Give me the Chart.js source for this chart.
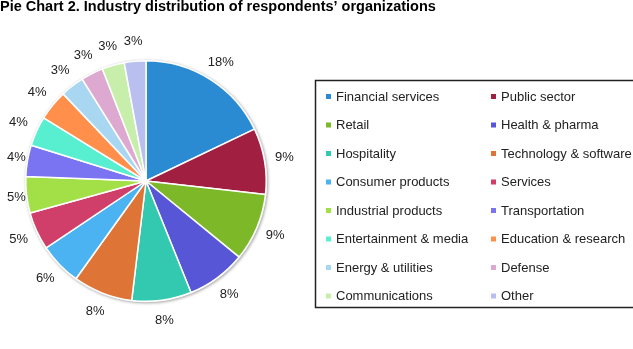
<!DOCTYPE html>
<html>
<head>
<meta charset="utf-8">
<script src="https://cdn.jsdelivr.net/npm/chart.js@4/dist/chart.umd.min.js"></script>
<style>
html,body{margin:0;padding:0;background:#fff;overflow:hidden;}
#wrap{position:relative;width:633px;height:349px;}
canvas{display:block;}
</style>
</head>
<body>
<div id="wrap"><canvas id="c" width="633" height="349"></canvas></div>
<script>
const titleText = "Pie Chart 2. Industry distribution of respondents\u2019 organizations";
const categories = [
  "Financial services", "Public sector", "Retail", "Health & pharma",
  "Hospitality", "Technology & software", "Consumer products", "Services",
  "Industrial products", "Transportation", "Entertainment & media", "Education & research",
  "Energy & utilities", "Defense", "Communications", "Other"
];
const shares = [17.9, 8.9, 9.1, 8.0, 8.0, 8.0, 5.7, 5.1, 4.9, 4.2, 4.0, 4.1, 3.2, 3.0, 3.0, 2.9];
const sliceColors = [
  "#2a8ad2", "#a11f40", "#7db828", "#5656d6",
  "#33c9b1", "#de7436", "#4bb3f1", "#cf3f69",
  "#a3e047", "#7a74f2", "#58efd1", "#ff8f4b",
  "#a9d7f2", "#dea9d1", "#c7efab", "#b9c0ef"
];

const labelPlugin = {
  id: 'pctLabels',
  beforeDatasetsDraw(chart) {
    const meta = chart.getDatasetMeta(0);
    const a = meta.data[0];
    const ctx = chart.ctx;
    ctx.save();
    ctx.beginPath();
    ctx.arc(a.x, a.y, a.outerRadius + 1, 0, Math.PI * 2);
    ctx.shadowColor = 'rgba(0,0,0,0.35)';
    ctx.shadowBlur = 3;
    ctx.shadowOffsetX = 1;
    ctx.shadowOffsetY = 1;
    ctx.fillStyle = '#e4e4e4';
    ctx.fill();
    ctx.restore();
  },
  afterDatasetsDraw(chart) {
    const ctx = chart.ctx;
    const meta = chart.getDatasetMeta(0);
    const vals = chart.data.datasets[0].data;
    ctx.save();
    ctx.font = '13px "Liberation Sans", Arial, sans-serif';
    ctx.fillStyle = '#222';
    ctx.textAlign = 'center';
    ctx.textBaseline = 'middle';
    meta.data.forEach((arc, i) => {
      const txt = Math.round(vals[i]) + '%';
      const w = ctx.measureText(txt).width;
      const mid = (arc.startAngle + arc.endAngle) / 2;
      const r = arc.outerRadius + 20;
      let x = arc.x + Math.cos(mid) * r;
      const y = arc.y + Math.sin(mid) * r;
      x = Math.max(x, 7 + w / 2);
      ctx.fillText(txt, x, y);
    });
    ctx.restore();
  },
  afterDraw(chart) {
    const ctx = chart.ctx;
    ctx.save();
    // title
    ctx.font = 'bold 14.5px "Liberation Sans", Arial, sans-serif';
    ctx.fillStyle = '#000';
    ctx.textAlign = 'left';
    ctx.textBaseline = 'alphabetic';
    ctx.fillText(titleText, 0, 11);
    // legend box
    ctx.strokeStyle = '#222';
    ctx.lineWidth = 1.5;
    ctx.strokeRect(315.5, 80.5, 340, 227);
    ctx.font = '13px "Liberation Sans", Arial, sans-serif';
    ctx.textBaseline = 'middle';
    const colX = [328, 493];
    const rowY0 = 97, rowStep = 28.5;
    categories.forEach((name, i) => {
      const col = i % 2, row = Math.floor(i / 2);
      const x = colX[col], y = rowY0 + row * rowStep;
      ctx.fillStyle = sliceColors[i];
      ctx.fillRect(x - 2, y - 3, 5, 5);
      ctx.fillStyle = '#222';
      ctx.fillText(name, x + 8, y);
    });
    ctx.restore();
  }
};

new Chart(document.getElementById('c'), {
  type: 'pie',
  data: {
    labels: categories,
    datasets: [{
      data: shares,
      backgroundColor: sliceColors,
      borderColor: '#ffffff',
      borderWidth: 1.5
    }]
  },
  options: {
    responsive: false,
    animation: false,
    layout: { padding: { left: 25, top: 60, right: 366, bottom: 47 } },
    plugins: {
      legend: { display: false },
      tooltip: { enabled: false },
      title: { display: false }
    }
  },
  plugins: [labelPlugin]
});
</script>
</body>
</html>
